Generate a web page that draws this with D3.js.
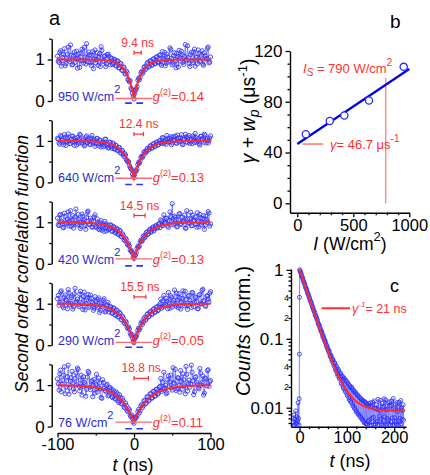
<!DOCTYPE html>
<html>
<head>
<meta charset="utf-8">
<script src="https://cdnjs.cloudflare.com/ajax/libs/d3/7.8.5/d3.min.js"></script>
<style>
  body { margin: 0; background: #fff; }
  svg { display: block; font-family: Arial, "Liberation Sans", sans-serif; }
</style>
</head>
<body>
<div id="chart"></div>
<script>
// ---- panel a : g2(t) for five pump intensities ----
// even bins t = -100..100, odd bins t = -99..99 (ns)
const tEven = d3.range(-100, 101, 2);
const tOdd = d3.range(-99, 100, 2);
const intensities = ["950", "640", "420", "290", "76"];
const taus = [9.4, 12.4, 14.5, 15.5, 18.8];
const tauLabels = ["9.4 ns", "12.4 ns", "14.5 ns", "15.5 ns", "18.8 ns"];
const g2Labels = ["0.14", "0.13", "0.13", "0.05", "0.11"];
const dipMin = [0.06, 0.10, 0.12, 0.07, 0.11];

const g2_950 = [1.08, 0.93, 1.21, 0.97, 1.12, 0.85, 1.02, 1.30, 0.95, 1.10, 0.88, 1.18, 1.03, 0.79, 1.14, 0.98, 1.25, 0.91, 1.06, 1.38, 0.94, 1.11, 0.86, 1.19, 1.01,
  0.92, 1.16, 1.05, 0.83, 1.22, 0.97, 1.09, 0.89, 1.13, 0.95,
  1.04, 0.88, 1.01, 0.86, 0.97, 0.80, 0.91, 0.74,
  0.82, 0.66, 0.72, 0.52, 0.46, 0.31, 0.19,
  0.05,
  0.26, 0.35, 0.55, 0.57, 0.71, 0.70, 0.83,
  0.79, 0.93, 0.84, 0.96, 0.87, 1.02, 0.90, 1.07,
  0.94, 1.11, 0.86, 1.03, 1.17, 0.91, 1.06, 0.98, 1.24, 0.87,
  1.09, 0.96, 1.15, 0.82, 1.04, 1.20, 0.93, 1.08, 0.99, 1.33, 0.90, 1.12, 0.97, 1.18, 0.84, 1.05, 1.23, 0.95, 1.10, 0.89, 1.16, 1.01, 1.27, 0.92, 1.06];
const g2_950_odd = [0.96, 1.17, 0.84, 1.05, 1.26, 0.90, 1.13, 0.99, 1.35, 0.87, 1.08, 0.93, 1.20, 1.02, 0.81, 1.15, 0.97, 1.29, 0.89, 1.04, 1.18, 0.92, 1.10, 0.78, 1.23, 1.00, 0.86, 1.14, 1.31, 0.95, 1.07, 0.83, 1.12,
  1.08, 0.87, 1.02, 0.91, 0.99, 0.84, 0.96, 0.80, 0.90, 0.74, 0.81, 0.65, 0.68, 0.50, 0.49, 0.28, 0.12,
  0.18, 0.29, 0.50, 0.51, 0.68, 0.66, 0.81, 0.76, 0.90, 0.82, 0.97, 0.86, 1.01, 0.90, 1.05, 0.93, 1.10,
  0.89, 1.19, 1.00, 0.85, 1.13, 0.94, 1.28, 1.03, 0.91, 1.16, 0.80, 1.07, 1.22, 0.96, 1.11, 0.88, 1.36, 0.99, 1.04, 0.83, 1.17, 0.93, 1.25, 1.06, 0.90, 1.14, 0.97, 1.21, 0.86, 1.09, 1.02, 1.30, 0.94];

const g2_640 = [1.06, 0.95, 1.13, 1.02, 0.91, 1.09, 0.98, 1.17, 0.93, 1.04, 1.11, 0.89, 1.00, 1.08, 0.94, 1.14, 0.97, 1.05, 0.90, 1.12, 1.01, 0.92, 1.07, 0.96, 1.03,
  0.93, 1.06, 0.88, 1.01, 0.95, 0.86, 1.04, 0.92, 0.83, 0.97,
  0.86, 0.95, 0.81, 0.90, 0.78, 0.84, 0.72, 0.77,
  0.66, 0.69, 0.55, 0.50, 0.41, 0.33, 0.20,
  0.12,
  0.27, 0.33, 0.48, 0.51, 0.63, 0.64, 0.74,
  0.73, 0.82, 0.80, 0.88, 0.83, 0.93, 0.87, 0.96,
  0.91, 1.01, 0.94, 1.07, 0.97, 0.92, 1.05, 0.99, 1.10, 0.95,
  1.02, 1.12, 0.94, 1.07, 0.99, 1.15, 0.91, 1.04, 1.09, 0.96, 1.13, 1.00, 0.93, 1.08, 1.18, 0.97, 1.05, 0.90, 1.11, 1.02, 1.16, 0.95, 1.06, 1.00, 1.12];
const g2_640_odd = [1.04, 0.92, 1.10, 0.97, 1.15, 0.89, 1.06, 1.00, 0.94, 1.12, 0.98, 1.07, 0.90, 1.03, 1.16, 0.95, 1.01, 0.88, 1.09, 0.96, 1.05, 0.91, 1.13, 0.99, 0.87, 1.06, 0.93, 1.02, 0.85, 0.98, 0.90, 1.04, 0.88,
  0.84, 0.96, 0.82, 0.93, 0.80, 0.88, 0.76, 0.84, 0.70, 0.76, 0.62, 0.66, 0.52, 0.50, 0.36, 0.30, 0.14,
  0.19, 0.28, 0.43, 0.46, 0.60, 0.60, 0.73, 0.71, 0.81, 0.78, 0.88, 0.83, 0.93, 0.87, 0.97, 0.90, 1.00,
  0.96, 1.08, 0.93, 1.03, 1.13, 0.97, 1.06, 0.91, 1.10, 1.01, 0.95, 1.14, 0.99, 1.07, 0.92, 1.04, 1.16, 0.98, 1.09, 0.94, 1.03, 1.12, 0.96, 1.08, 1.00, 0.93, 1.11, 1.05, 0.97, 1.14, 1.02, 0.95, 1.07];

const g2_420 = [1.10, 0.92, 1.19, 1.01, 0.87, 1.14, 0.96, 1.25, 1.03, 0.90, 1.16, 0.98, 1.32, 0.94, 1.07, 0.85, 1.20, 1.00, 0.93, 1.11, 1.27, 0.96, 1.05, 0.88, 1.13,
  0.90, 1.08, 0.84, 0.99, 0.81, 0.94, 1.02, 0.79, 0.93, 0.85,
  0.93, 0.78, 0.88, 0.74, 0.83, 0.70, 0.79, 0.65,
  0.69, 0.56, 0.59, 0.45, 0.43, 0.30, 0.25,
  0.13,
  0.21, 0.37, 0.40, 0.53, 0.54, 0.66, 0.63,
  0.75, 0.71, 0.81, 0.76, 0.86, 0.79, 0.90, 0.86,
  0.95, 0.87, 1.03, 0.92, 0.98, 1.09, 0.91, 1.04, 1.14, 1.45,
  0.97, 1.12, 0.89, 1.06, 1.21, 0.95, 1.01, 1.17, 0.86, 1.08, 0.99, 1.24, 0.92, 1.05, 1.13, 0.88, 1.02, 1.19, 0.94, 1.09, 0.83, 1.15, 1.00, 1.22, 0.96];
const g2_420_odd = [0.94, 1.17, 1.03, 0.88, 1.22, 0.99, 1.08, 0.91, 1.28, 1.05, 0.86, 1.13, 0.97, 1.19, 1.01, 0.90, 1.15, 1.06, 0.83, 1.24, 0.95, 1.10, 0.89, 1.02, 1.18, 0.87, 0.97, 0.82, 1.04, 0.91, 0.78, 0.96, 0.86,
  0.82, 0.94, 0.79, 0.90, 0.76, 0.86, 0.72, 0.81, 0.66, 0.72, 0.58, 0.62, 0.48, 0.49, 0.34, 0.31, 0.16,
  0.20, 0.27, 0.42, 0.43, 0.57, 0.56, 0.68, 0.66, 0.77, 0.73, 0.84, 0.79, 0.89, 0.84, 0.93, 0.87, 0.97,
  1.06, 0.93, 1.18, 0.99, 1.10, 0.88, 1.25, 1.02, 0.94, 1.15, 1.07, 0.90, 1.20, 0.97, 1.12, 1.03, 0.86, 1.28, 0.98, 1.09, 0.92, 1.17, 1.04, 0.95, 1.23, 0.89, 1.11, 1.00, 1.16, 0.93, 1.06, 1.26, 0.91];

const g2_290 = [1.12, 0.96, 1.28, 1.05, 0.90, 1.21, 1.08, 1.34, 0.98, 1.15, 0.87, 1.24, 1.03, 1.11, 0.93, 1.30, 1.00, 1.17, 0.85, 1.09, 1.22, 0.94, 1.13, 1.02, 0.89,
  1.06, 0.91, 1.14, 0.84, 0.99, 1.08, 0.80, 0.95, 1.03, 0.86,
  0.92, 0.78, 0.89, 0.72, 0.83, 0.69, 0.76, 0.61,
  0.66, 0.52, 0.55, 0.40, 0.39, 0.24, 0.17,
  0.06,
  0.20, 0.27, 0.41, 0.42, 0.56, 0.55, 0.67,
  0.63, 0.76, 0.70, 0.82, 0.75, 0.88, 0.80, 0.93,
  0.85, 1.00, 0.89, 1.07, 0.94, 1.13, 0.88, 1.02, 1.19, 0.92,
  1.08, 0.97, 1.25, 0.90, 1.14, 1.03, 1.31, 0.95, 1.10, 0.86, 1.20, 1.01, 1.27, 0.93, 1.16, 1.05, 0.88, 1.22, 0.99, 1.35, 1.07, 0.94, 1.18, 1.04, 1.29];
const g2_290_odd = [1.20, 1.03, 1.31, 0.94, 1.16, 1.09, 0.88, 1.26, 1.01, 1.19, 0.92, 1.37, 1.06, 0.97, 1.23, 1.12, 0.86, 1.28, 1.00, 1.14, 0.91, 1.21, 1.05, 0.84, 1.17, 0.96, 1.10, 0.79, 1.02, 0.93, 1.12, 0.82, 0.98,
  0.80, 0.93, 0.77, 0.90, 0.73, 0.85, 0.68, 0.79, 0.62, 0.70, 0.54, 0.58, 0.43, 0.44, 0.29, 0.26, 0.10,
  0.15, 0.21, 0.36, 0.37, 0.52, 0.50, 0.64, 0.60, 0.74, 0.68, 0.80, 0.75, 0.86, 0.79, 0.91, 0.83, 0.95,
  1.11, 0.92, 1.20, 0.98, 1.06, 1.27, 0.89, 1.15, 1.02, 1.33, 0.94, 1.09, 1.24, 0.87, 1.13, 1.00, 1.30, 0.96, 1.18, 1.08, 0.91, 1.26, 1.03, 1.14, 0.88, 1.21, 1.00, 1.32, 1.07, 0.95, 1.19, 1.11, 1.25];

const g2_76 = [1.15, 0.88, 1.36, 1.02, 1.24, 0.79, 1.10, 1.48, 0.93, 1.18, 1.05, 0.84, 1.29, 1.41, 0.97, 1.12, 0.76, 1.20, 1.03, 0.90, 1.33, 0.95, 1.08, 0.72, 1.14,
  1.01, 0.83, 1.17, 0.91, 0.68, 1.06, 0.87, 0.99, 0.74, 0.93,
  0.89, 0.70, 0.84, 0.66, 0.79, 0.58, 0.71, 0.55,
  0.62, 0.45, 0.51, 0.36, 0.40, 0.24, 0.19,
  0.08,
  0.23, 0.26, 0.41, 0.38, 0.53, 0.50, 0.63,
  0.57, 0.71, 0.64, 0.79, 0.69, 0.85, 0.74, 0.90,
  0.81, 0.97, 0.85, 1.06, 0.92, 0.79, 1.13, 0.96, 1.24, 0.88,
  1.05, 1.38, 0.91, 1.17, 0.83, 1.09, 1.27, 0.98, 1.45, 0.86, 1.12, 1.02, 1.31, 0.77, 1.19, 1.07, 0.94, 1.40, 1.00, 1.22, 0.81, 1.15, 1.35, 0.97, 1.11];
const g2_76_odd = [1.03, 1.27, 0.84, 1.12, 1.44, 0.95, 1.20, 0.78, 1.09, 1.33, 0.91, 1.16, 1.01, 1.38, 0.86, 1.24, 0.97, 1.07, 0.73, 1.19, 1.30, 0.89, 1.11, 0.99, 0.81, 1.26, 0.94, 1.05, 0.70, 1.13, 0.92, 0.85, 1.02,
  0.76, 0.94, 0.72, 0.88, 0.68, 0.83, 0.62, 0.77, 0.56, 0.68, 0.47, 0.57, 0.39, 0.43, 0.27, 0.28, 0.12,
  0.17, 0.22, 0.36, 0.33, 0.50, 0.46, 0.62, 0.55, 0.72, 0.62, 0.79, 0.69, 0.85, 0.74, 0.90, 0.78, 0.94,
  1.16, 0.89, 1.31, 1.00, 0.82, 1.22, 1.08, 0.93, 1.42, 1.04, 0.87, 1.18, 0.99, 1.35, 0.90, 1.13, 0.79, 1.26, 1.03, 0.95, 1.48, 1.10, 0.84, 1.20, 1.01, 0.91, 1.29, 1.06, 0.76, 1.17, 0.98, 1.37, 1.08];

const g2Even = [g2_950, g2_640, g2_420, g2_290, g2_76];
const g2Odd = [g2_950_odd, g2_640_odd, g2_420_odd, g2_290_odd, g2_76_odd];

// ---- panel b : decay rate vs intensity ----
const bIntensity = [76, 290, 420, 640, 950];
const bRate = [54.5, 64.8, 69.2, 81.0, 107.5];
const gamma = 46.7;      // us^-1
const Isat = 790;        // W/cm^2

// ---- panel c : fluorescence decay ----
const cPreTime = [-13, -12, -11, -10, -9, -8, -7, -6, -5, -4, -3, -2, -1, -0.6, -0.3, 0, 0.5];
const cPreCounts = [0.0062, 0.0078, 0.0056, 0.0068, 0.0058, 0.0090, 0.0060, 0.0074, 0.0057, 0.0065, 0.0118, 0.0070, 0.0056, 0.0135, 0.060, 0.40, 1.0];
const cTimeOdd = d3.range(1, 220, 2);
const cCountsOdd = [0.97, 0.90, 0.80, 0.74, 0.66, 0.62, 0.55, 0.52, 0.46, 0.43,
  0.39, 0.35, 0.33, 0.29, 0.27, 0.25, 0.22, 0.21, 0.19, 0.17,
  0.16, 0.145, 0.13, 0.125, 0.108, 0.104, 0.093, 0.088, 0.077, 0.074,
  0.066, 0.064, 0.055, 0.056, 0.047, 0.049, 0.040, 0.044, 0.034, 0.038,
  0.029, 0.034, 0.026, 0.031, 0.022, 0.028, 0.019, 0.026, 0.017, 0.024,
  0.015, 0.022, 0.013, 0.020, 0.012, 0.019, 0.0105, 0.017, 0.0095, 0.016,
  0.0085, 0.015, 0.0078, 0.014, 0.0072, 0.013, 0.0066, 0.0125, 0.0060, 0.012,
  0.0058, 0.011, 0.0064, 0.0115, 0.0056, 0.0105, 0.0070, 0.0120, 0.0057, 0.0098,
  0.0062, 0.0110, 0.0056, 0.0094, 0.0075, 0.0128, 0.0058, 0.0102, 0.0066, 0.0135,
  0.0056, 0.0092, 0.0070, 0.0118, 0.0057, 0.0105, 0.0063, 0.0125, 0.0056, 0.0097,
  0.0072, 0.0113, 0.0058, 0.0088, 0.0065, 0.0120, 0.0057, 0.0100, 0.0068, 0.0110];
const cTimeEven = d3.range(2, 221, 2);
const cCountsEven = [0.93, 0.85, 0.78, 0.70, 0.65, 0.58, 0.54, 0.49, 0.45, 0.41,
  0.37, 0.345, 0.31, 0.29, 0.26, 0.24, 0.22, 0.20, 0.185, 0.165,
  0.155, 0.14, 0.13, 0.118, 0.112, 0.099, 0.094, 0.083, 0.080, 0.070,
  0.068, 0.059, 0.058, 0.050, 0.051, 0.043, 0.045, 0.036, 0.040, 0.031,
  0.036, 0.027, 0.032, 0.023, 0.029, 0.020, 0.027, 0.018, 0.025, 0.016,
  0.023, 0.014, 0.021, 0.0125, 0.020, 0.0112, 0.018, 0.0100, 0.017, 0.0090,
  0.0155, 0.0082, 0.0145, 0.0075, 0.0135, 0.0069, 0.0128, 0.0063, 0.0122, 0.0059,
  0.0115, 0.0057, 0.0108, 0.0067, 0.0118, 0.0056, 0.0100, 0.0073, 0.0126, 0.0058,
  0.0096, 0.0064, 0.0132, 0.0057, 0.0090, 0.0069, 0.0116, 0.0056, 0.0104, 0.0074,
  0.0130, 0.0058, 0.0095, 0.0066, 0.0122, 0.0056, 0.0108, 0.0071, 0.0136, 0.0057,
  0.0093, 0.0062, 0.0119, 0.0056, 0.0102, 0.0070, 0.0127, 0.0058, 0.0091, 0.0066];
const cTau = 21;
const cBackground = 0.009;

const RED = "#ff2a2a", RED_TXT = "#ff3030", RED_THIN = "#ff6a6a";
const BLUE = "#3030ff", BLUE_LINE = "#5e5eff", BLUE_TXT = "#2a2ad0";

const svg = d3.select("#chart").append("svg")
  .attr("width", 430).attr("height", 475);
svg.append("rect").attr("width", 430).attr("height", 475).attr("fill", "#fff");

// text with italic / super / subscript pieces
function rich(parent, x, y, parts, size, fill) {
  const t = parent.append("text").attr("x", x).attr("y", y)
    .attr("font-size", size).attr("fill", fill || "#000");
  let shift = 0;
  parts.forEach(p => {
    const s = t.append("tspan").text(p.t);
    const d = p.dy || 0;
    if (d !== shift) s.attr("dy", d - shift);
    shift = d;
    if (p.i) s.attr("font-style", "italic");
    if (p.fs) s.attr("font-size", p.fs);
  });
  return t;
}

function styleAxis(g, fs) {
  g.attr("font-size", fs).attr("font-family", null);
  g.selectAll(".domain").attr("stroke", "#000").attr("stroke-width", 1.4);
  g.selectAll(".tick line").attr("stroke", "#000").attr("stroke-width", 1.3);
  g.selectAll(".tick text").attr("fill", "#000");
}

// ================= panel a =================
const xA = d3.scaleLinear().domain([-100, 100]).range([57.5, 210.5]);
const zeroY = [101, 182.4, 263.8, 345.2, 426.6];

g2Even.forEach((vals, i) => {
  const y = d3.scaleLinear().domain([0, 1.5]).range([zeroY[i], zeroY[i] - 62.25]);
  const g = svg.append("g");

  const ax = g.append("g").attr("transform", "translate(51.7,0)")
    .call(d3.axisLeft(y).tickValues([0, 1]).tickSize(4).tickSizeOuter(0).tickPadding(3).tickFormat(d => String(d)));
  styleAxis(ax, 17);
  const axm = g.append("g").attr("transform", "translate(51.7,0)")
    .call(d3.axisLeft(y).tickValues([0.5, 1.5]).tickSize(2.5).tickSizeOuter(0).tickFormat(""));
  styleAxis(axm, 17);
  axm.select(".domain").remove();

  const pts = tEven.map((t, k) => [t, vals[k]])
    .concat(tOdd.map((t, k) => [t, g2Odd[i][k]]))
    .sort((a, b) => a[0] - b[0]);
  g.append("path").datum(pts)
    .attr("fill", "none").attr("stroke", BLUE_LINE).attr("stroke-width", 0.7)
    .attr("d", d3.line().x(d => xA(d[0])).y(d => y(d[1])));
  g.selectAll("circle").data(pts).enter().append("circle")
    .attr("cx", d => xA(d[0])).attr("cy", d => y(d[1])).attr("r", 2.1)
    .attr("fill", "none").attr("stroke", BLUE).attr("stroke-width", 0.85);

  // fit curve
  const tau = taus[i], m = dipMin[i];
  const fit = d3.range(-100, 100.01, 0.5).map(t => [t, 1 - (1 - m) * Math.exp(-Math.abs(t) / tau)]);
  g.append("path").datum(fit)
    .attr("fill", "none").attr("stroke", RED).attr("stroke-width", 2)
    .attr("d", d3.line().x(d => xA(d[0])).y(d => y(d[1])));

  // zero marker under the dip
  g.append("line")
    .attr("x1", xA(-11.5)).attr("x2", xA(12.5))
    .attr("y1", y(-0.05)).attr("y2", y(-0.05))
    .attr("stroke", BLUE).attr("stroke-width", 1.6).attr("stroke-dasharray", "6.6,4.6");

  // red level line at the dip
  g.append("line")
    .attr("x1", xA(-24)).attr("x2", xA(24))
    .attr("y1", y(m)).attr("y2", y(m))
    .attr("stroke", RED_THIN).attr("stroke-width", 1.3);

  // intensity label
  rich(g, 58, zeroY[i], [{t: intensities[i] + " W/cm"}, {t: "2", dy: -8, fs: 11}], 12.5, BLUE_TXT);

  // g2(0) label
  rich(g, xA(24) + 0.5, zeroY[i], [{t: "g", i: true}, {t: "(2)", dy: -6, fs: 9}, {t: "=" + g2Labels[i], dy: 0}], 13, RED_TXT);

  // width bar and label
  const yb = zeroY[i] - 48.3;
  g.append("line").attr("x1", xA(0)).attr("x2", xA(tau)).attr("y1", yb).attr("y2", yb)
    .attr("stroke", RED).attr("stroke-width", 1.2);
  [0, tau].forEach(v => g.append("line").attr("x1", xA(v)).attr("x2", xA(v))
    .attr("y1", yb - 2.2).attr("y2", yb + 2.2).attr("stroke", RED).attr("stroke-width", 1.2));
  g.append("text").attr("x", xA(tau / 2)).attr("y", zeroY[i] - 54.3)
    .attr("text-anchor", "middle").attr("font-size", 12).attr("fill", RED_TXT)
    .text(tauLabels[i]);
});

// x axis panel a
const axA = svg.append("g").attr("transform", "translate(0,433)")
  .call(d3.axisBottom(xA).tickValues([-100, 0, 100]).tickSize(4.5).tickSizeOuter(0).tickPadding(1).tickFormat(d => String(d)));
styleAxis(axA, 16.5);
const axAm = svg.append("g").attr("transform", "translate(0,433)")
  .call(d3.axisBottom(xA).tickValues([-50, 50]).tickSize(2.5).tickFormat(""));
styleAxis(axAm, 16.5);
axAm.select(".domain").remove();

rich(svg, 133, 470.5, [{t: "t", i: true}, {t: " (ns)"}], 18).attr("text-anchor", "middle");
svg.append("text").attr("transform", "translate(28,264) rotate(-90)")
  .attr("text-anchor", "middle").attr("font-size", 17.5).attr("font-style", "italic")
  .text("Second order correlation function");
svg.append("text").attr("x", 49).attr("y", 25).attr("font-size", 20).text("a");

// ================= panel b =================
const xB = d3.scaleLinear().domain([-65, 1000]).range([290, 409.3]);
const yB = d3.scaleLinear().domain([-7.4, 120]).range([212.7, 51]);

const axBy = svg.append("g").attr("transform", "translate(290,0)")
  .call(d3.axisLeft(yB).tickValues([0, 40, 80, 120]).tickSize(4.5).tickSizeOuter(0).tickPadding(3));
styleAxis(axBy, 17);
const axBym = svg.append("g").attr("transform", "translate(290,0)")
  .call(d3.axisLeft(yB).tickValues(d3.range(10, 120, 10).filter(v => v % 40)).tickSize(2.5).tickFormat(""));
styleAxis(axBym, 17);
axBym.select(".domain").remove();

const axBx = svg.append("g").attr("transform", "translate(0,212.7)")
  .call(d3.axisBottom(xB).tickValues([0, 500, 1000]).tickSize(4.5).tickSizeOuter(0).tickPadding(2).tickFormat(d => String(d)));
styleAxis(axBx, 16.5);
const axBxm = svg.append("g").attr("transform", "translate(0,212.7)")
  .call(d3.axisBottom(xB).tickValues(d3.range(100, 1000, 100).filter(v => v !== 500)).tickSize(2.5).tickFormat(""));
styleAxis(axBxm, 16.5);
axBxm.select(".domain").remove();

// red annotations
svg.append("line").attr("x1", xB(Isat)).attr("x2", xB(Isat)).attr("y1", yB(0)).attr("y2", yB(99))
  .attr("stroke", RED_THIN).attr("stroke-width", 1.1);
svg.append("line").attr("x1", xB(48)).attr("x2", xB(232)).attr("y1", yB(gamma)).attr("y2", yB(gamma))
  .attr("stroke", RED_THIN).attr("stroke-width", 1.4);

// fit line and points
svg.append("path").datum([0, 1000].map(I => [I, gamma * (1 + I / Isat)]))
  .attr("fill", "none").attr("stroke", "#0000e8").attr("stroke-width", 2.2)
  .attr("d", d3.line().x(d => xB(d[0])).y(d => yB(d[1])));
svg.selectAll(".bpt").data(bIntensity).enter().append("circle").attr("class", "bpt")
  .attr("cx", d => xB(d)).attr("cy", (d, k) => yB(bRate[k])).attr("r", 3.6)
  .attr("fill", "#fff").attr("stroke", "#2a2aff").attr("stroke-width", 1.3);

rich(svg, 303, 73, [{t: "I", i: true}, {t: "S", i: true, dy: 3, fs: 10}, {t: " = " + Isat + " W/cm", dy: 0}, {t: "2", dy: -7, fs: 10}], 13, RED_TXT);
rich(svg, 330, 148.5, [{t: "γ", i: true}, {t: "= " + gamma + " μs"}, {t: "-1", dy: -7, fs: 10}], 13, RED_TXT);

rich(svg, 350, 250, [{t: "I", i: true}, {t: " (W/cm"}, {t: "2", dy: -9, fs: 13}, {t: ")", dy: 0}], 17.5)
  .attr("text-anchor", "middle");
rich(svg, 0, 0, [{t: "γ", i: true}, {t: " + "}, {t: "w", i: true}, {t: "p", i: true, dy: 4, fs: 14}, {t: " (μs", dy: 0}, {t: "-1", dy: -8, fs: 13}, {t: ")", dy: 0}], 19.5)
  .attr("transform", "translate(255,111) rotate(-90)").attr("text-anchor", "middle");
svg.append("text").attr("x", 390).attr("y", 28).attr("font-size", 19).text("b");

// ================= panel c =================
const xC = d3.scaleLinear().domain([-18, 225]).range([291, 406]);
const yC = d3.scaleLog().domain([0.0053, 1.03]).range([426.7, 269]);

const cMajor = [1, 0.1, 0.01];
const axCy = svg.append("g").attr("transform", "translate(291,0)")
  .call(d3.axisLeft(yC).tickValues(cMajor).tickSize(4.5).tickSizeOuter(0).tickPadding(3).tickFormat(d => String(d)));
styleAxis(axCy, 17);
const cMinor = [0.006, 0.007, 0.008, 0.009, 0.02, 0.03, 0.04, 0.05, 0.06, 0.07, 0.08, 0.09, 0.2, 0.3, 0.4, 0.5, 0.6, 0.7, 0.8, 0.9];
const cMinorLabels = {0.02: "2", 0.04: "4", 0.2: "2", 0.4: "4"};
const axCym = svg.append("g").attr("transform", "translate(291,0)")
  .call(d3.axisLeft(yC).tickValues(cMinor).tickSize(2.5).tickPadding(-0.5)
    .tickFormat(d => cMinorLabels[d] || ""));
styleAxis(axCym, 9);
axCym.select(".domain").remove();

const axCx = svg.append("g").attr("transform", "translate(0,426.7)")
  .call(d3.axisBottom(xC).tickValues([0, 100, 200]).tickSize(4.5).tickSizeOuter(0).tickPadding(0.5));
styleAxis(axCx, 16.5);
const axCxm = svg.append("g").attr("transform", "translate(0,426.7)")
  .call(d3.axisBottom(xC).tickValues([20, 40, 60, 80, 120, 140, 160, 180, 220]).tickSize(2.5).tickFormat(""));
styleAxis(axCxm, 16.5);
axCxm.select(".domain").remove();

const cPts = cPreTime.map((t, k) => [t, cPreCounts[k]])
  .concat(cTimeOdd.map((t, k) => [t, cCountsOdd[k]]))
  .concat(cTimeEven.map((t, k) => [t, cCountsEven[k]]))
  .sort((a, b) => a[0] - b[0]);
svg.append("path").datum(cPts)
  .attr("fill", "none").attr("stroke", BLUE_LINE).attr("stroke-width", 0.8)
  .attr("d", d3.line().x(d => xC(d[0])).y(d => yC(d[1])));
svg.selectAll(".cpt").data(cPts).enter().append("circle").attr("class", "cpt")
  .attr("cx", d => xC(d[0])).attr("cy", d => yC(d[1])).attr("r", 2)
  .attr("fill", "none").attr("stroke", BLUE).attr("stroke-width", 0.85);

const cFit = d3.range(0, 220.01, 1).map(t => [t, Math.exp(-t / cTau) + cBackground]);
svg.append("path").datum(cFit)
  .attr("fill", "none").attr("stroke", RED).attr("stroke-width", 2)
  .attr("d", d3.line().x(d => xC(d[0])).y(d => yC(d[1])));

svg.append("line").attr("x1", 321.7).attr("x2", 350).attr("y1", 308.3).attr("y2", 308.3)
  .attr("stroke", RED).attr("stroke-width", 2);
rich(svg, 352, 312.5, [{t: "γ", i: true}, {t: "-1", i: true, dy: -6, fs: 8}, {t: "= " + cTau + " ns", dy: 0}], 12.5, RED_TXT);

rich(svg, 350, 467, [{t: "t", i: true}, {t: " (ns)"}], 18).attr("text-anchor", "middle");
rich(svg, 0, 0, [{t: "Counts", i: true}, {t: " (norm.)"}], 19.5)
  .attr("transform", "translate(250,331) rotate(-90)").attr("text-anchor", "middle");
svg.append("text").attr("x", 390).attr("y", 292).attr("font-size", 18).text("c");
</script>
</body>
</html>
